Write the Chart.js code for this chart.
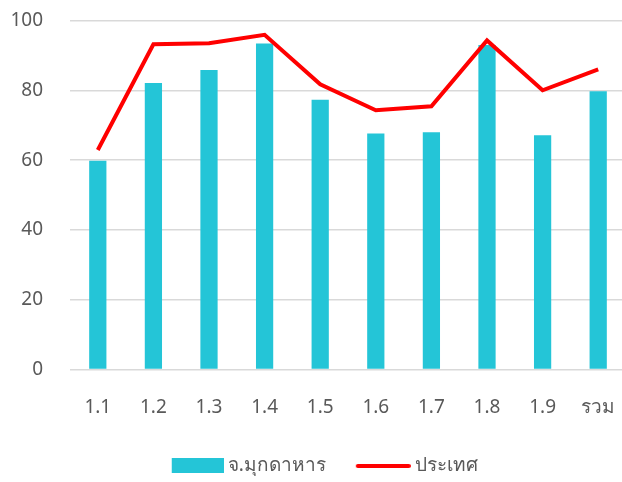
<!DOCTYPE html>
<html>
<head>
<meta charset="utf-8">
<script src="https://cdn.jsdelivr.net/npm/chart.js@4"></script>
<style>
  html, body { margin: 0; padding: 0; background: #fff; overflow: hidden; }
  #wrap { width: 622px; height: 482px; overflow: hidden; }
</style>
</head>
<body>
<div id="wrap"><canvas id="chart" width="626" height="482"></canvas></div>
<script>
const categories = ["1.1", "1.2", "1.3", "1.4", "1.5", "1.6", "1.7", "1.8", "1.9", "รวม"];
const provinceValues = [59.8, 82.1, 85.8, 93.4, 77.3, 67.6, 68.0, 93.0, 67.1, 79.7];
const countryValues = [62.9, 93.2, 93.5, 95.9, 81.7, 74.3, 75.4, 94.3, 80.0, 86.0];
const yTicks = [0, 20, 40, 60, 80, 100];

const BAR_COLOR = "#24C5D7";
const LINE_COLOR = "#FF0000";
const TEXT_COLOR = "#595959";
const FONT = "'Noto Sans', 'DejaVu Sans', sans-serif";

// legend swatches, right-aligned inside an 81px wide image
function swatch(kind) {
  const c = document.createElement("canvas");
  c.width = 81; c.height = 16;
  const g = c.getContext("2d");
  if (kind === "box") {
    g.fillStyle = BAR_COLOR;
    g.fillRect(29, 0, 52, 15);
  } else {
    g.strokeStyle = LINE_COLOR;
    g.lineWidth = 4;
    g.lineCap = "round";
    g.beginPath();
    g.moveTo(28, 8); g.lineTo(79, 8);
    g.stroke();
  }
  return c;
}

new Chart(document.getElementById("chart"), {
  data: {
    labels: categories,
    datasets: [
      {
        type: "line",
        label: "ประเทศ",
        data: countryValues,
        borderColor: LINE_COLOR,
        backgroundColor: LINE_COLOR,
        borderWidth: 4,
        pointRadius: 0,
        tension: 0,
        order: 0,
        pointStyle: swatch("line")
      },
      {
        type: "bar",
        label: "จ.มุกดาหาร",
        data: provinceValues,
        backgroundColor: BAR_COLOR,
        categoryPercentage: 1,
        barPercentage: 0.31,
        order: 1,
        pointStyle: swatch("box")
      }
    ]
  },
  options: {
    responsive: false,
    animation: false,
    layout: { padding: { left: 0, right: 0, top: 20.5, bottom: -3.5 } },
    scales: {
      x: {
        grid: { display: false, drawTicks: true, tickLength: 24 },
        border: { display: false },
        ticks: { color: TEXT_COLOR, font: { family: FONT, size: 19 }, padding: 3 },
        afterFit: s => { s.height = 77.5; }
      },
      y: {
        min: 0,
        max: 100,
        afterBuildTicks: s => { s.ticks = yTicks.map(v => ({ value: v })); },
        grid: { color: "#D9D9D9", lineWidth: 1.5, drawTicks: true, tickLength: 23, tickColor: "rgba(0,0,0,0)" },
        border: { display: false },
        ticks: { color: TEXT_COLOR, font: { family: FONT, size: 19 }, padding: 4 },
        afterFit: s => { s.width = 70; }
      }
    },
    plugins: {
      legend: {
        position: "bottom",
        reverse: true,
        labels: {
          usePointStyle: true,
          pointStyleWidth: 70,
          padding: 9.5,
          color: TEXT_COLOR,
          font: { family: FONT, size: 19 }
        }
      },
      tooltip: { enabled: false }
    }
  }
});
</script>
</body>
</html>
